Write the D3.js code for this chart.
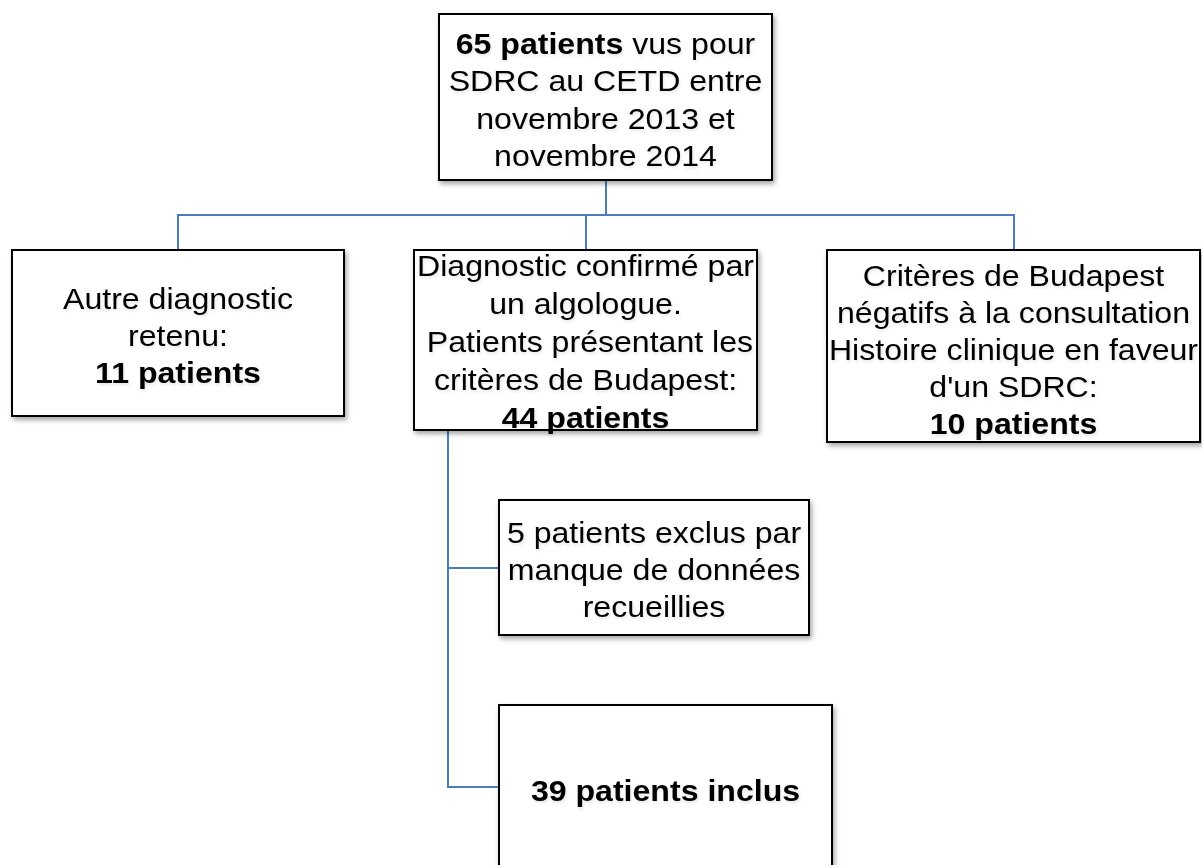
<!DOCTYPE html>
<html>
<head>
<meta charset="utf-8">
<script src="https://cdn.jsdelivr.net/npm/d3@7"></script>
<style>
  html, body { margin: 0; padding: 0; background: #fff; overflow: hidden; }
  svg { display: block; }
</style>
</head>
<body>
<div id="chart"></div>
<script>
// node ids and their text, one array per line, [text, bold]
var nodeIds = ["total", "autre", "confirme", "negatif", "exclus", "inclus"];
var nodeLines = [
    [[["65 patients", true], [" vus pour", false]], [["SDRC au CETD entre", false]], [["novembre 2013 et", false]], [["novembre 2014", false]]],
    [[["Autre diagnostic", false]], [["retenu:", false]], [["11 patients", true]]],
    [[["Diagnostic confirmé par", false]], [["un algologue.", false]], [[" Patients présentant les", false]], [["critères de Budapest:", false]], [["44 patients", true]]],
    [[["Critères de Budapest", false]], [["négatifs à la consultation", false]], [["Histoire clinique en faveur", false]], [["d'un SDRC:", false]], [["10 patients", true]]],
    [[["5 patients exclus par", false]], [["manque de données", false]], [["recueillies", false]]],
    [[["39 patients inclus", true]]]
];
// links: tree = split from parent bottom, side = run down the parent's left side
var linkSources = ["total", "total", "total", "confirme", "confirme"];
var linkTargets = ["autre", "confirme", "negatif", "exclus", "inclus"];
var linkTypes   = ["tree", "tree", "tree", "side", "side"];

(function() {
    var width = 1202, height = 865;
    var stretch = 1.07; // text is a little wider than Liberation Sans

    // box placement on the page
    var layout = {
        total:    { x: 439, y: 14,  w: 333, h: 166, first: 54,  lh: 37.3 },
        autre:    { x: 12,  y: 250, w: 332, h: 166, first: 309, lh: 37 },
        confirme: { x: 414, y: 250, w: 343, h: 180, first: 276, lh: 38 },
        negatif:  { x: 827, y: 250, w: 373, h: 192, first: 286, lh: 37 },
        exclus:   { x: 499, y: 500, w: 310, h: 135, first: 543, lh: 37 },
        inclus:   { x: 499, y: 705, w: 333, h: 164, first: 801, lh: 37 }
    };
    var busY = 215, sideX = 448;

    var svg = d3.select("#chart").append("svg")
        .attr("width", width)
        .attr("height", height)
        .attr("viewBox", "0 0 " + width + " " + height);

    var defs = svg.append("defs");
    defs.append("filter")
        .attr("id", "shadow")
        .attr("x", "-10%").attr("y", "-10%")
        .attr("width", "130%").attr("height", "130%")
      .append("feDropShadow")
        .attr("dx", 2).attr("dy", 3)
        .attr("stdDeviation", 2.5)
        .attr("flood-color", "#000")
        .attr("flood-opacity", 0.35);
    defs.append("filter")
        .attr("id", "textshadow")
        .attr("x", "-10%").attr("y", "-10%")
        .attr("width", "130%").attr("height", "140%")
      .append("feDropShadow")
        .attr("dx", 1).attr("dy", 2)
        .attr("stdDeviation", 1.5)
        .attr("flood-color", "#000")
        .attr("flood-opacity", 0.1);

    var nodes = nodeIds.map(function(id, i) {
        return { id: id, lines: nodeLines[i], box: layout[id] };
    });
    var byId = {};
    nodes.forEach(function(n) { byId[n.id] = n; });

    var links = linkSources.map(function(s, i) {
        return { source: byId[s], target: byId[linkTargets[i]], type: linkTypes[i] };
    });

    function linkPath(l) {
        var s = l.source.box, t = l.target.box;
        var p = d3.path();
        if (l.type === "tree") {
            var sx = Math.round(s.x + s.w / 2), tx = Math.round(t.x + t.w / 2);
            p.moveTo(sx, s.y + s.h);
            p.lineTo(sx, busY);
            p.lineTo(tx, busY);
            p.lineTo(tx, t.y);
        } else {
            var ty = Math.round(t.y + t.h / 2);
            p.moveTo(sideX, s.y + s.h);
            p.lineTo(sideX, ty);
            p.lineTo(t.x, ty);
        }
        return p.toString();
    }

    // connectors
    svg.append("g")
        .selectAll("path")
        .data(links)
        .enter().append("path")
            .attr("d", linkPath)
            .attr("fill", "none")
            .attr("stroke", "#4a7ebb")
            .attr("stroke-width", 2);

    // boxes
    var node = svg.append("g")
        .selectAll("g")
        .data(nodes)
        .enter().append("g");

    node.append("rect")
        .attr("x", function(d) { return d.box.x; })
        .attr("y", function(d) { return d.box.y; })
        .attr("width", function(d) { return d.box.w; })
        .attr("height", function(d) { return d.box.h; })
        .attr("fill", "#fff")
        .attr("stroke", "#000")
        .attr("stroke-width", 2)
        .attr("filter", "url(#shadow)");

    var text = node.append("text")
        .attr("text-anchor", "middle")
        .attr("transform", function(d) {
            return "translate(" + (d.box.x + d.box.w / 2) + ",0) scale(" + stretch + ",1)";
        })
        .attr("filter", "url(#textshadow)")
        .style("font-family", "'Liberation Sans', Arial, sans-serif")
        .style("font-size", "30px")
        .style("fill", "#000")
        .style("white-space", "pre")
        .attr("xml:space", "preserve");

    text.each(function(d) {
        var t = d3.select(this);
        d.lines.forEach(function(line, i) {
            var tl = t.append("tspan")
                .attr("x", 0)
                .attr("y", d.box.first + i * d.box.lh);
            line.forEach(function(run) {
                tl.append("tspan")
                    .style("font-weight", run[1] ? "bold" : "normal")
                    .text(run[0]);
            });
        });
    });
})();
</script>
</body>
</html>
